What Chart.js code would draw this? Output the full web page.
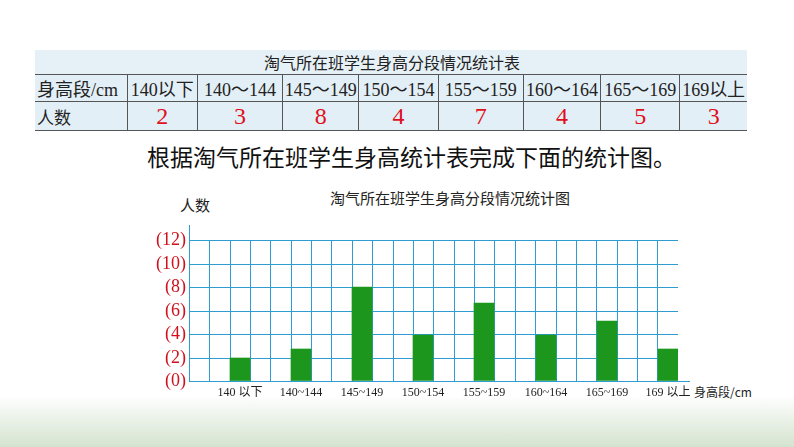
<!DOCTYPE html>
<html>
<head>
<meta charset="utf-8">
<script src="https://cdn.jsdelivr.net/npm/chart.js@4.4.1/dist/chart.umd.min.js"></script>
<style>
  html, body { margin: 0; padding: 0; }
  body {
    width: 794px; height: 447px; position: relative; overflow: hidden;
    background: linear-gradient(to bottom, #fff 0px, #fff 395px, #d4e3cf 447px);
    font-family: "Noto Sans CJK SC", sans-serif;
  }
  #tbl {
    position: absolute; left: 35px; top: 50px; width: 712px;
    border-collapse: collapse; background: #e2eff6; color: #222;
  }
  #tbl td {
    padding: 0; text-align: center; font-size: 17px;
    font-family: "Liberation Serif", "Noto Sans CJK SC", serif;
  }
  #tbl tr.head td { height: 21px; border-bottom: 1px solid #555; background: #e6f1f7; font-size: 16px; }
  #tbl tr.cats td { height: 21px; border-bottom: 1px solid #555; border-left: 1px solid #555; font-size: 18px; }
  #tbl tr.vals td { height: 28px; border-bottom: 1px solid #555; border-left: 1px solid #555; color: #e0101c; font-size: 24px; }
  #tbl tr td:first-child { border-left: none; text-align: left; padding-left: 2px; }
  #tbl tr.vals td:first-child { color: #222; font-size: 17px; }
  .txt { position: absolute; white-space: nowrap; color: #111; }
  #wrap { position: absolute; left: 0; top: 180px; width: 794px; height: 225px; }
</style>
</head>
<body>
<table id="tbl"></table>
<div class="txt" style="left:147px; top:141px; font-size:23px; line-height:30px;">根据淘气所在班学生身高统计表完成下面的统计图。</div>
<div class="txt" style="left:330px; top:188px; font-size:15px; line-height:20px; color:#222;">淘气所在班学生身高分段情况统计图</div>
<div class="txt" style="left:180px; top:195px; font-size:15px; line-height:20px; color:#222;">人数</div>
<div class="txt" style="left:694px; top:384px; font-size:12px; line-height:16px; color:#222;">身高段/cm</div>
<div id="wrap"><canvas id="BarChart"></canvas></div>
<script>
// table data
const tableTitle = '淘气所在班学生身高分段情况统计表';
const tableCats = ['140以下', '140～144', '145～149', '150～154', '155～159', '160～164', '165～169', '169以上'];
const counts = [2, 3, 8, 4, 7, 4, 5, 3];
const colWidths = [92, 70, 85, 76, 79, 85, 77, 79, 67];

// chart data (bar heights as drawn)
const axisLabels = ['140 以下', '140~144', '145~149', '150~154', '155~159', '160~164', '165~169', '169 以上'];
const barHeights = [2, 2.7, 8, 3.9, 6.6, 3.9, 5.1, 2.7];
const yMax = 12;
const yStep = 2;
const slotsPerGroup = 3;

// build the table
const tbl = document.getElementById('tbl');
let html = '<colgroup>' + colWidths.map(w => '<col style="width:' + w + 'px">').join('') + '</colgroup>';
html += '<tr class="head"><td colspan="9" style="text-align:center">' + tableTitle + '</td></tr>';
html += '<tr class="cats"><td>身高段/cm</td>' + tableCats.map(c => '<td>' + c + '</td>').join('') + '</tr>';
html += '<tr class="vals"><td>人数</td>' + counts.map(v => '<td>' + v + '</td>').join('') + '</tr>';
tbl.innerHTML = html;

// each category takes 3 grid columns, bar in the last one
const slotLabels = [];
const slotData = [];
axisLabels.forEach((lab, i) => {
    for (let k = 0; k < slotsPerGroup; k++) {
        const last = k === slotsPerGroup - 1;
        slotLabels.push(last ? lab : '');
        slotData.push(last ? barHeights[i] : null);
    }
});

const gridBlue = '#2f9dd2';

// axis lines run a little past the grid
const axisExtend = {
    id: 'axisExtend',
    afterDraw(chart) {
        const a = chart.chartArea;
        const ctx = chart.ctx;
        ctx.save();
        ctx.strokeStyle = gridBlue;
        ctx.lineWidth = 1;
        ctx.beginPath();
        ctx.moveTo(Math.round(a.left) + 0.5, a.top - 15);
        ctx.lineTo(Math.round(a.left) + 0.5, a.top);
        ctx.moveTo(a.right, Math.round(a.bottom) + 0.5);
        ctx.lineTo(a.right + 12, Math.round(a.bottom) + 0.5);
        ctx.stroke();
        ctx.restore();
    }
};

new Chart(document.getElementById('BarChart'), {
    type: 'bar',
    data: {
        labels: slotLabels,
        datasets: [{
            data: slotData,
            backgroundColor: '#1c961c',
            borderWidth: 0,
            barPercentage: 1,
            categoryPercentage: 1
        }]
    },
    options: {
        responsive: true,
        maintainAspectRatio: false,
        animation: false,
        layout: { padding: { left: 140, right: 116, top: 60, bottom: 0 } },
        plugins: {
            legend: { display: false },
            tooltip: { enabled: false }
        },
        scales: {
            x: {
                alignToPixels: true,
                afterFit(scale) { scale.height = 24; },
                grid: { color: gridBlue, drawTicks: false, offset: true },
                border: { color: gridBlue },
                ticks: {
                    autoSkip: false,
                    maxRotation: 0,
                    padding: 5,
                    color: '#222',
                    font: { family: '"Liberation Serif", "Noto Sans CJK SC", serif', size: 12 }
                }
            },
            y: {
                alignToPixels: true,
                min: 0,
                max: yMax,
                afterFit(scale) { scale.width = 49; },
                grid: { color: gridBlue, drawTicks: false },
                border: { color: gridBlue },
                ticks: {
                    stepSize: yStep,
                    autoSkip: false,
                    padding: 3,
                    color: '#d0101c',
                    font: { family: '"Liberation Serif", serif', size: 18 },
                    callback: v => '(' + v + ')'
                }
            }
        }
    },
    plugins: [axisExtend]
});
</script>
</body>
</html>
